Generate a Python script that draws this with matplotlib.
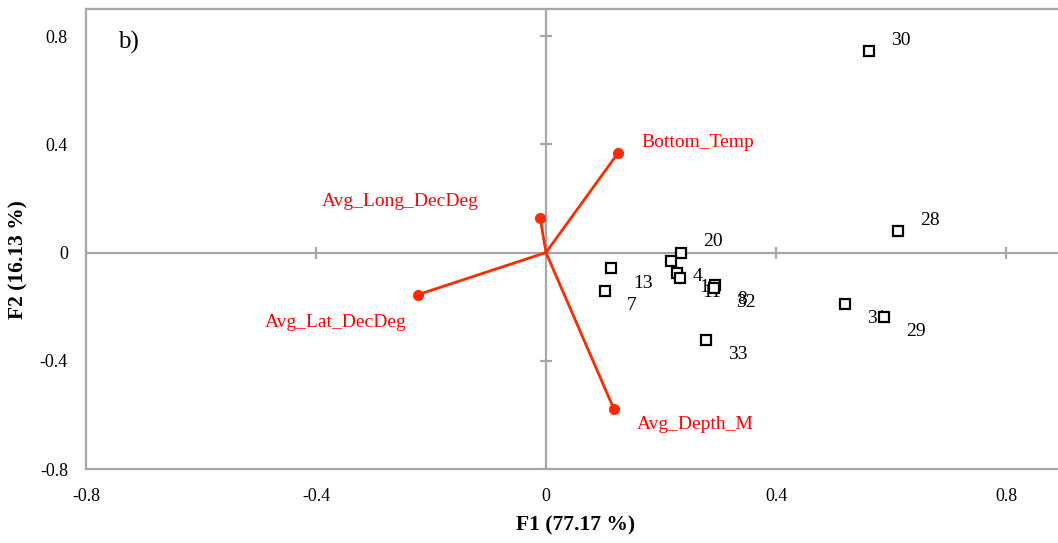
import matplotlib
matplotlib.use("Agg")
import matplotlib.pyplot as plt

# Observations (site scores)
obs_labels = ["30", "28", "20", "4", "1", "11", "13", "7", "8", "32", "31", "29", "33"]
obs_x = [0.562, 0.612, 0.235, 0.217, 0.228, 0.233, 0.113, 0.103, 0.294, 0.292, 0.520, 0.588, 0.278]
obs_y = [0.744, 0.078, 0.000, -0.033, -0.074, -0.093, -0.059, -0.141, -0.119, -0.130, -0.189, -0.237, -0.322]

# Variables (loadings)
var_labels = ["Bottom_Temp", "Avg_Long_DecDeg", "Avg_Lat_DecDeg", "Avg_Depth_M"]
var_x = [0.125, -0.010, -0.223, 0.118]
var_y = [0.367, 0.126, -0.156, -0.578]

ticks = [-0.8, -0.4, 0, 0.4, 0.8]
tick_labels = ["-0.8", "-0.4", "0", "0.4", "0.8"]

plt.rcParams['font.family'] = ['Liberation Serif', 'DejaVu Serif']

fig = plt.figure(figsize=(10.58, 5.43), dpi=100)
W, H = 1058, 543
left_px, bottom_px = 86, 469
xr = (-0.8, 0.9)
yr = (-0.8, 0.9)
ppx = 575.0
ppy = 270.6
ax = fig.add_axes([left_px / W, (H - bottom_px) / H,
                   (xr[1] - xr[0]) * ppx / W, (yr[1] - yr[0]) * ppy / H])
ax.set_xlim(*xr)
ax.set_ylim(*yr)

gray = "#A6A6A6"
for s in ["left", "bottom", "top", "right"]:
    ax.spines[s].set_color(gray)
    ax.spines[s].set_linewidth(1.6)

ax.set_xticks(ticks)
ax.set_xticklabels(tick_labels)
ax.set_yticks(ticks)
ax.set_yticklabels(tick_labels)
ax.tick_params(length=0, labelsize=13, pad=13)
ax.tick_params(axis='x', pad=14)

# center lines
ax.axhline(0, color=gray, lw=1.6, zorder=1)
ax.axvline(0, color=gray, lw=1.6, zorder=1)
ct = [t for t in ticks if t != 0]
ax.plot(ct, [0] * len(ct), ls='none', marker='|', ms=8, mew=1.6, color=gray, zorder=1)
ax.plot([0] * len(ct), ct, ls='none', marker='_', ms=8, mew=1.6, color=gray, zorder=1)

# variables
line_col = "#FF2A00"
for vx, vy in zip(var_x, var_y):
    ax.plot([0, vx], [0, vy], color=line_col, lw=2, zorder=3)
ax.plot(var_x, var_y, ls='none', marker='o', ms=7, color=line_col, zorder=4)
var_off = {"Bottom_Temp": (24, 11, 'left'),
           "Avg_Long_DecDeg": (-62, 17, 'right'),
           "Avg_Lat_DecDeg": (-11, -28, 'right'),
           "Avg_Depth_M": (23, -16, 'left')}
for lab, vx, vy in zip(var_labels, var_x, var_y):
    dx, dy, ha = var_off[lab]
    ax.annotate(lab, (vx, vy), xytext=(dx * 0.72, dy * 0.72), textcoords='offset points',
                ha=ha, va='center', color='#FF0000', fontsize=14)

# observations
ax.plot(obs_x, obs_y, ls='none', marker='s', ms=7, mfc='white', mec='black', mew=1.6, zorder=5)
up = {"30", "28", "20"}
for lab, ox, oy in zip(obs_labels, obs_x, obs_y):
    dy = 11 if lab in up else -15
    ax.annotate(lab, (ox, oy), xytext=(22 * 0.72, dy * 0.72), textcoords='offset points',
                ha='left', va='center', color='black', fontsize=14)

ax.text(-0.745, 0.775, "b)", fontsize=18, ha='left', va='center')

fig.text(576 / W, 1 - 525 / H, "F1 (77.17 %)", ha='center', va='center', fontsize=15.5, fontweight='bold')
fig.text(18 / W, 1 - 260 / H, "F2 (16.13 %)", ha='center', va='center', fontsize=15.5,
         fontweight='bold', rotation=90)

fig.savefig("out.png", dpi=100)
